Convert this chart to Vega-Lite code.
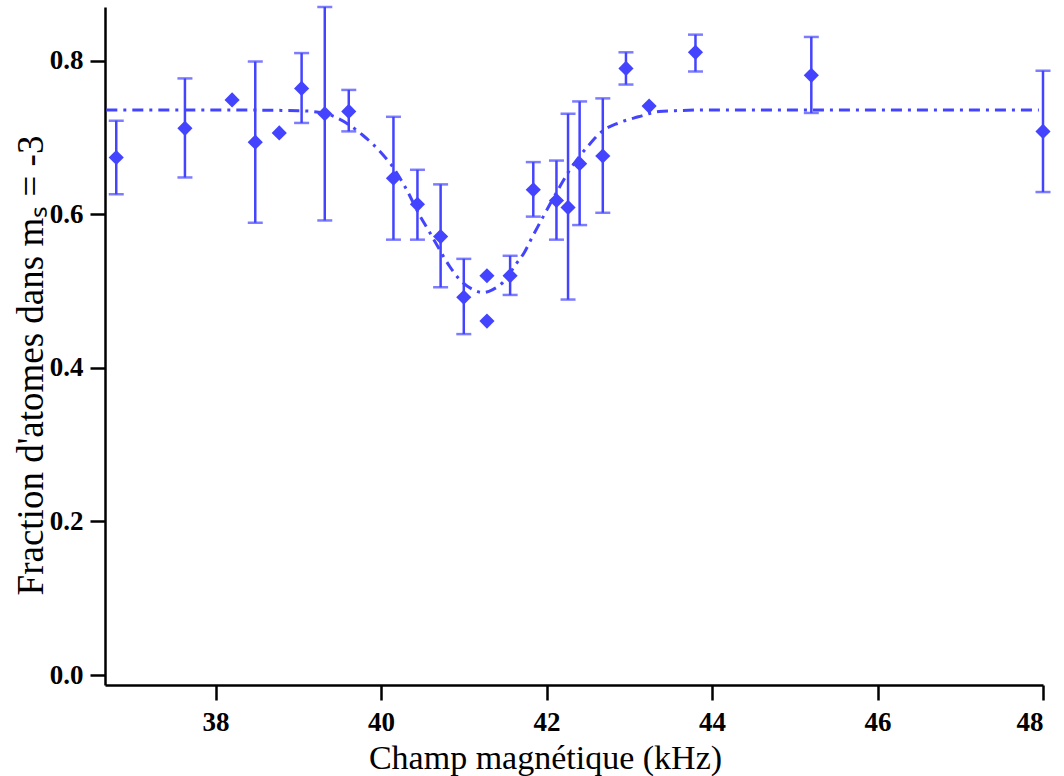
{
  "$schema": "https://vega.github.io/schema/vega-lite/v6.json",
  "autosize": "none",
  "width": 938,
  "height": 678,
  "padding": {"left": 105, "top": 7, "right": 21, "bottom": 91},
  "background": "white",
  "config": {
    "view": {"stroke": null},
    "axis": {
      "grid": false,
      "domainColor": "black",
      "domainWidth": 2.5,
      "tickColor": "black",
      "tickWidth": 2.5,
      "tickSize": 15,
      "labelFont": "Liberation Serif",
      "labelFontSize": 27,
      "labelFontWeight": "bold",
      "labelColor": "black",
      "titleFont": "Liberation Serif",
      "titleFontWeight": "normal",
      "titleColor": "black"
    }
  },
  "datasets": {
    "pts": [
      {"x": 36.80, "y": 0.674, "lo": 0.626, "hi": 0.722},
      {"x": 37.63, "y": 0.712, "lo": 0.648, "hi": 0.777},
      {"x": 38.20, "y": 0.749, "lo": null, "hi": null},
      {"x": 38.48, "y": 0.694, "lo": 0.589, "hi": 0.799},
      {"x": 38.77, "y": 0.706, "lo": null, "hi": null},
      {"x": 39.04, "y": 0.764, "lo": 0.719, "hi": 0.810},
      {"x": 39.32, "y": 0.731, "lo": 0.592, "hi": 0.870},
      {"x": 39.61, "y": 0.734, "lo": 0.708, "hi": 0.762},
      {"x": 40.15, "y": 0.647, "lo": 0.567, "hi": 0.727},
      {"x": 40.44, "y": 0.613, "lo": 0.567, "hi": 0.658},
      {"x": 40.72, "y": 0.571, "lo": 0.505, "hi": 0.639},
      {"x": 41.00, "y": 0.492, "lo": 0.444, "hi": 0.542},
      {"x": 41.28, "y": 0.520, "lo": null, "hi": null},
      {"x": 41.28, "y": 0.461, "lo": null, "hi": null},
      {"x": 41.56, "y": 0.520, "lo": 0.495, "hi": 0.546},
      {"x": 41.84, "y": 0.632, "lo": 0.597, "hi": 0.668},
      {"x": 42.12, "y": 0.618, "lo": 0.567, "hi": 0.670},
      {"x": 42.26, "y": 0.609, "lo": 0.489, "hi": 0.731},
      {"x": 42.40, "y": 0.666, "lo": 0.586, "hi": 0.747},
      {"x": 42.68, "y": 0.676, "lo": 0.602, "hi": 0.751},
      {"x": 42.96, "y": 0.790, "lo": 0.769, "hi": 0.811},
      {"x": 43.24, "y": 0.741, "lo": null, "hi": null},
      {"x": 43.80, "y": 0.811, "lo": 0.786, "hi": 0.834},
      {"x": 45.20, "y": 0.781, "lo": 0.732, "hi": 0.831},
      {"x": 48.00, "y": 0.708, "lo": 0.629, "hi": 0.787}
    ],
    "fit": [
      {"x": 36.68, "y": 0.736},
      {"x": 38.0, "y": 0.736},
      {"x": 39.0, "y": 0.735},
      {"x": 39.3, "y": 0.732},
      {"x": 39.48, "y": 0.725},
      {"x": 39.78, "y": 0.703},
      {"x": 40.02, "y": 0.678},
      {"x": 40.12, "y": 0.665},
      {"x": 40.30, "y": 0.634},
      {"x": 40.46, "y": 0.600},
      {"x": 40.58, "y": 0.578},
      {"x": 40.67, "y": 0.561},
      {"x": 40.83, "y": 0.532},
      {"x": 40.95, "y": 0.515},
      {"x": 41.11, "y": 0.502},
      {"x": 41.23, "y": 0.498},
      {"x": 41.35, "y": 0.502},
      {"x": 41.47, "y": 0.511},
      {"x": 41.63, "y": 0.535},
      {"x": 41.73, "y": 0.550},
      {"x": 41.83, "y": 0.571},
      {"x": 41.89, "y": 0.583},
      {"x": 41.95, "y": 0.595},
      {"x": 42.15, "y": 0.634},
      {"x": 42.27, "y": 0.656},
      {"x": 42.51, "y": 0.690},
      {"x": 42.67, "y": 0.708},
      {"x": 42.87, "y": 0.719},
      {"x": 43.11, "y": 0.727},
      {"x": 43.36, "y": 0.734},
      {"x": 43.56, "y": 0.735},
      {"x": 44.0, "y": 0.736},
      {"x": 47.95, "y": 0.736}
    ]
  },
  "encoding": {
    "x": {
      "type": "quantitative",
      "scale": {"domain": [36.664, 48.0], "nice": false, "zero": false},
      "axis": {
        "values": [38, 40, 42, 44, 46, 48],
        "format": "d",
        "labelPadding": 9,
        "title": "Champ magnétique (kHz)",
        "titleFontSize": 34,
        "titleX": 440,
        "titleY": 83,
        "titleAlign": "center",
        "titleBaseline": "alphabetic"
      }
    },
    "y": {
      "type": "quantitative",
      "scale": {"domain": [-0.013, 0.870], "nice": false, "zero": false},
      "axis": {
        "values": [0, 0.2, 0.4, 0.6, 0.8],
        "format": ".1f",
        "labelPadding": 7,
        "title": "Fraction d'atomes dans mₛ = -3",
        "titleFontSize": 37,
        "titleAngle": -90,
        "titleX": -63,
        "titleY": 358,
        "titleAlign": "center",
        "titleBaseline": "alphabetic"
      }
    }
  },
  "layer": [
    {
      "data": {"name": "fit"},
      "mark": {"type": "line", "color": "#4444ff", "strokeWidth": 3, "strokeDash": [11, 6, 3, 6], "interpolate": "monotone"},
      "encoding": {"x": {"field": "x"}, "y": {"field": "y"}}
    },
    {
      "data": {"name": "pts"},
      "transform": [{"filter": "isValid(datum.lo)"}],
      "mark": {"type": "rule", "color": "#4444ff", "strokeWidth": 2.5},
      "encoding": {"x": {"field": "x"}, "y": {"field": "lo"}, "y2": {"field": "hi"}}
    },
    {
      "data": {"name": "pts"},
      "transform": [{"filter": "isValid(datum.lo)"}],
      "mark": {"type": "tick", "orient": "horizontal", "color": "#4444ff", "size": 15, "thickness": 2.5},
      "encoding": {"x": {"field": "x"}, "y": {"field": "lo"}}
    },
    {
      "data": {"name": "pts"},
      "transform": [{"filter": "isValid(datum.lo)"}],
      "mark": {"type": "tick", "orient": "horizontal", "color": "#4444ff", "size": 15, "thickness": 2.5},
      "encoding": {"x": {"field": "x"}, "y": {"field": "hi"}}
    },
    {
      "data": {"name": "pts"},
      "mark": {"type": "point", "shape": "diamond", "filled": true, "color": "#4444ff", "opacity": 1, "size": 230},
      "encoding": {"x": {"field": "x"}, "y": {"field": "y"}}
    }
  ]
}
